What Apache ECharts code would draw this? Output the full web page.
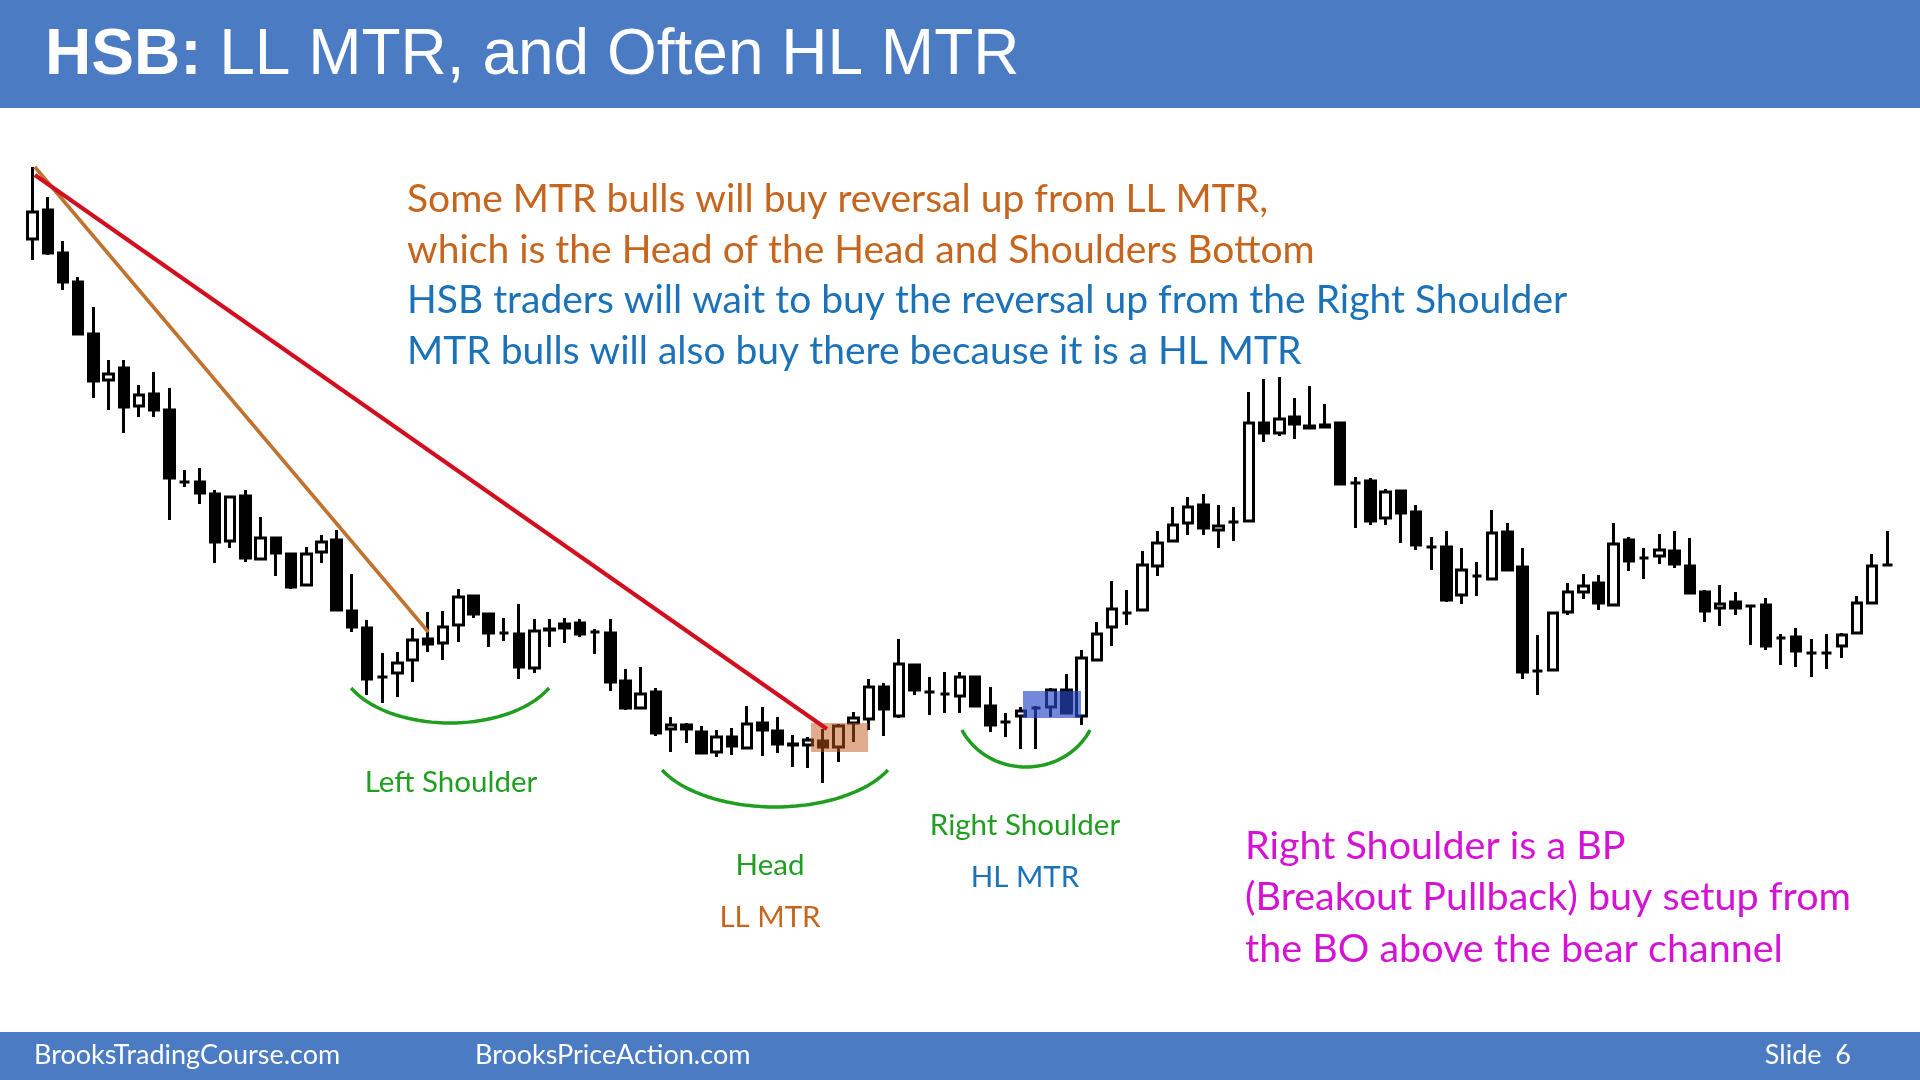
<!DOCTYPE html>
<html lang="en">
<head>
  <meta charset="utf-8">
  <title>HSB: LL MTR, and Often HL MTR</title>
  <script src="https://cdn.jsdelivr.net/npm/echarts@6/dist/echarts.min.js"></script>
  <style>
    html, body { margin: 0; padding: 0; background: #fff; }
    #main { width: 1920px; height: 1080px; }
  </style>
</head>
<body>
  <div id="main"></div>
  <script>
    // bar values (price units, higher = up)
    var opens = [761, 790, 747, 718, 666, 620, 632, 594, 606, 590,
      518, 518, 506, 459, 504, 441, 462, 446, 415, 448,
      460, 389, 372, 323, 327, 340, 361, 357, 375, 404,
      386, 367, 366, 332, 370, 376, 377, 368, 367, 319,
      292, 308, 271, 275, 268, 248, 263, 252, 277, 269,
      256, 255, 259, 253, 277, 281, 313, 284, 335, 308,
      306, 304, 323, 294, 278, 284, 292, 293, 310, 284,
      340, 373, 387, 390, 434, 459, 477, 495, 470, 478,
      479, 577, 567, 583, 574, 575, 577, 517, 519, 482,
      509, 488, 453, 453, 405, 424, 421, 468, 433, 329,
      330, 388, 408, 417, 395, 460, 442, 444, 449, 434,
      408, 392, 398, 394, 395, 362, 363, 347, 347, 354,
      367, 397, 435];
    var closes = [788, 747, 718, 666, 619, 626, 593, 605, 590, 522,
      518, 507, 458, 503, 442, 462, 447, 413, 446, 458,
      390, 373, 321, 323, 337, 360, 356, 373, 403, 386,
      367, 367, 333, 369, 371, 372, 366, 368, 318, 292,
      306, 267, 275, 271, 247, 263, 254, 276, 270, 256,
      255, 260, 253, 274, 282, 313, 291, 336, 310, 308,
      306, 323, 294, 275, 278, 289, 292, 310, 287, 342,
      366, 391, 387, 435, 457, 475, 493, 472, 474, 478,
      577, 567, 581, 576, 572, 573, 516, 517, 479, 508,
      487, 455, 453, 400, 430, 424, 467, 430, 328, 329,
      387, 408, 414, 397, 456, 439, 442, 450, 436, 407,
      389, 396, 392, 394, 354, 362, 349, 347, 347, 365,
      397, 434, 435];
    var lows = [740, 745, 710, 665, 602, 590, 567, 583, 583, 480,
      513, 496, 437, 452, 438, 440, 424, 411, 414, 437,
      390, 368, 305, 297, 303, 318, 348, 340, 358, 382,
      353, 359, 321, 327, 353, 357, 363, 346, 309, 290,
      292, 264, 248, 257, 246, 243, 245, 252, 244, 247,
      233, 232, 217, 238, 258, 270, 264, 282, 305, 285,
      287, 287, 293, 268, 263, 251, 251, 283, 287, 275,
      339, 354, 375, 389, 424, 458, 465, 465, 452, 459,
      478, 558, 564, 561, 572, 573, 516, 472, 475, 475,
      457, 450, 430, 398, 396, 404, 420, 430, 321, 305,
      329, 385, 401, 390, 395, 429, 421, 436, 432, 407,
      378, 374, 385, 355, 350, 335, 333, 323, 331, 342,
      367, 396, 434];
    var highs = [833, 803, 759, 723, 693, 640, 640, 615, 628, 612,
      530, 532, 510, 503, 510, 483, 463, 446, 453, 465,
      470, 426, 380, 347, 348, 372, 388, 389, 411, 404,
      387, 382, 396, 381, 381, 382, 381, 371, 381, 331,
      333, 312, 283, 277, 274, 270, 272, 294, 293, 283,
      265, 263, 271, 276, 288, 321, 317, 361, 335, 323,
      328, 328, 324, 313, 287, 293, 294, 312, 326, 350,
      378, 419, 410, 449, 469, 493, 503, 506, 495, 493,
      608, 621, 623, 602, 614, 596, 577, 523, 522, 511,
      509, 495, 463, 469, 452, 438, 490, 477, 452, 365,
      387, 417, 426, 425, 477, 463, 452, 466, 469, 462,
      410, 415, 408, 394, 402, 366, 372, 361, 366, 367,
      404, 446, 469];
    var barLabels = opens.map(function (v, i) { return 'Bar ' + (i + 1); });

    // trend lines: [bar position, price]
    var bearTrendLine = [[0.15, 825], [52.25, 271]];
    var steepTrendLine = [[0.15, 833], [26.03, 368]];

    // highlight boxes: [from bar, to bar, top price, bottom price]
    var signalBoxes = [[51.2, 54.95, 277, 248], [65.14, 68.96, 309, 282]];
    var boxColors = ['rgba(196,88,29,0.5)', 'rgba(40,70,200,0.65)'];

    // shoulder / head smile curves: [from bar, to bar, top price, bottom price]
    var smileCurves = [[20.95, 33.97, 312, 277], [41.4, 56.26, 230, 193], [61.13, 69.55, 270, 233]];

    var candleData = opens.map(function (o, i) {
      return [o, closes[i], lows[i], highs[i]];
    });

    var txtFont = 'Lato, "Open Sans", sans-serif';
    var orange = '#c5651e';
    var blue = '#1b72b8';
    var green = '#1f9e1f';
    var magenta = '#d414d4';

    var myChart = echarts.init(document.getElementById('main'));

    var option = {
      backgroundColor: '#ffffff',
      animation: false,
      grid: { left: 25, top: 150, width: 1870, height: 750 },
      xAxis: [
        { type: 'category', data: barLabels, boundaryGap: true, show: false },
        { type: 'value', min: -0.5, max: 122.5, show: false }
      ],
      yAxis: { type: 'value', min: 100, max: 850, show: false, splitLine: { show: false } },
      graphic: [
        // header and footer bands
        { type: 'rect', left: 0, top: 0, shape: { width: 1920, height: 108 }, style: { fill: '#4a7bc3' } },
        { type: 'rect', left: 0, top: 1032, shape: { width: 1920, height: 48 }, style: { fill: '#4a7bc3' } },
        {
          type: 'text', x: 45, y: 56,
          style: {
            text: '{b|HSB:} LL MTR, and Often HL MTR',
            fill: '#fff', font: '64px "Liberation Sans", Arial, sans-serif', verticalAlign: 'middle',
            rich: { b: { fontWeight: 'bold', fontSize: 64, fontFamily: '"Liberation Sans", Arial, sans-serif', fill: '#fff' } }
          }
        },
        { type: 'text', x: 34, y: 1055, style: { text: 'BrooksTradingCourse.com', fill: '#fff', font: '27px ' + txtFont, verticalAlign: 'middle' } },
        { type: 'text', x: 475, y: 1055, style: { text: 'BrooksPriceAction.com', fill: '#fff', font: '27px ' + txtFont, verticalAlign: 'middle' } },
        { type: 'text', x: 1851, y: 1055, style: { text: 'Slide  6', fill: '#fff', font: '27px ' + txtFont, align: 'right', verticalAlign: 'middle' } },

        // explanation block
        { type: 'text', x: 407, y: 199, style: { text: 'Some MTR bulls will buy reversal up from LL MTR,', fill: orange, font: '39px ' + txtFont, verticalAlign: 'middle' } },
        { type: 'text', x: 407, y: 250, style: { text: 'which is the Head of the Head and Shoulders Bottom', fill: orange, font: '39px ' + txtFont, verticalAlign: 'middle' } },
        { type: 'text', x: 407, y: 300, style: { text: 'HSB traders will wait to buy the reversal up from the Right Shoulder', fill: blue, font: '39px ' + txtFont, verticalAlign: 'middle' } },
        { type: 'text', x: 407, y: 351, style: { text: 'MTR bulls will also buy there because it is a HL MTR', fill: blue, font: '39px ' + txtFont, verticalAlign: 'middle' } },

        // pattern labels
        { type: 'text', x: 451, y: 782, style: { text: 'Left Shoulder', fill: green, font: '29.5px ' + txtFont, align: 'center', verticalAlign: 'middle' } },
        { type: 'text', x: 770, y: 865, style: { text: 'Head', fill: green, font: '29.5px ' + txtFont, align: 'center', verticalAlign: 'middle' } },
        { type: 'text', x: 770, y: 917, style: { text: 'LL MTR', fill: orange, font: '29.5px ' + txtFont, align: 'center', verticalAlign: 'middle' } },
        { type: 'text', x: 1025, y: 825, style: { text: 'Right Shoulder', fill: green, font: '29.5px ' + txtFont, align: 'center', verticalAlign: 'middle' } },
        { type: 'text', x: 1025, y: 877, style: { text: 'HL MTR', fill: blue, font: '29.5px ' + txtFont, align: 'center', verticalAlign: 'middle' } },

        // breakout pullback note
        { type: 'text', x: 1245, y: 846, style: { text: 'Right Shoulder is a BP', fill: magenta, font: '39.5px ' + txtFont, verticalAlign: 'middle' } },
        { type: 'text', x: 1245, y: 897, style: { text: '(Breakout Pullback) buy setup from', fill: magenta, font: '39.5px ' + txtFont, verticalAlign: 'middle' } },
        { type: 'text', x: 1245, y: 949, style: { text: 'the BO above the bear channel', fill: magenta, font: '39.5px ' + txtFont, verticalAlign: 'middle' } }
      ],
      series: [
        {
          type: 'candlestick',
          xAxisIndex: 0,
          yAxisIndex: 0,
          data: candleData,
          barWidth: 10,
          z: 2,
          silent: true,
          itemStyle: {
            color: '#ffffff',
            color0: '#000000',
            borderColor: '#000000',
            borderColor0: '#000000',
            borderWidth: 3
          }
        },
        {
          // semi-transparent signal boxes
          type: 'custom',
          xAxisIndex: 1,
          yAxisIndex: 0,
          z: 3,
          silent: true,
          data: signalBoxes,
          encode: { x: [0, 1], y: [2, 3] },
          renderItem: function (params, api) {
            var p1 = api.coord([api.value(0), api.value(2)]);
            var p2 = api.coord([api.value(1), api.value(3)]);
            return {
              type: 'rect',
              shape: { x: p1[0], y: p1[1], width: p2[0] - p1[0], height: p2[1] - p1[1] },
              style: { fill: boxColors[params.dataIndex] }
            };
          }
        },
        {
          // green smile curves under shoulders and head
          type: 'custom',
          xAxisIndex: 1,
          yAxisIndex: 0,
          z: 3,
          silent: true,
          clip: false,
          data: smileCurves,
          encode: { x: [0, 1], y: [2, 3] },
          renderItem: function (params, api) {
            var p1 = api.coord([api.value(0), api.value(2)]);
            var p2 = api.coord([api.value(1), api.value(3)]);
            var t0 = 0.45;
            var half = (p2[0] - p1[0]) / 2;
            var cx = p1[0] + half;
            var a = half / Math.cos(t0);
            var b = (p2[1] - p1[1]) / (1 - Math.sin(t0));
            var cy = p2[1] - b;
            var pts = [];
            for (var k = 0; k <= 40; k++) {
              var t = t0 + (Math.PI - 2 * t0) * k / 40;
              pts.push([cx + a * Math.cos(t), cy + b * Math.sin(t)]);
            }
            return {
              type: 'polyline',
              shape: { points: pts },
              style: { stroke: green, lineWidth: 3.5, fill: null }
            };
          }
        },
        {
          type: 'line',
          xAxisIndex: 1,
          yAxisIndex: 0,
          data: steepTrendLine,
          symbol: 'none',
          z: 4,
          silent: true,
          lineStyle: { color: '#c0722f', width: 3.5 }
        },
        {
          type: 'line',
          xAxisIndex: 1,
          yAxisIndex: 0,
          data: bearTrendLine,
          symbol: 'none',
          z: 4,
          silent: true,
          lineStyle: { color: '#d10f1f', width: 4 }
        }
      ]
    };

    myChart.setOption(option);
  </script>
</body>
</html>
